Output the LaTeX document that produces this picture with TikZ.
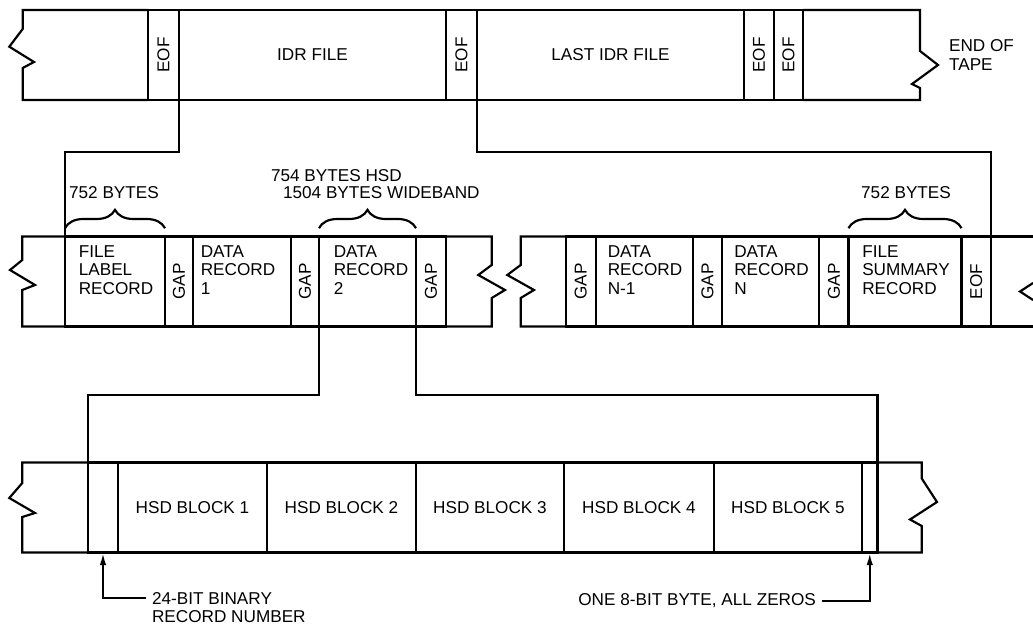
\documentclass[tikz,border=0pt]{standalone}
\usepackage{fontspec}
\setmainfont{Liberation Sans}
\usetikzlibrary{arrows.meta,decorations.pathreplacing}

\begin{document}
\begin{tikzpicture}[x=0.6pt, y=-0.6pt, line width=1.3pt, >={Latex[length=7.5pt,width=3.8pt]},
    font=\fontsize{10.3}{11}\selectfont,
    cell/.style={draw, inner sep=0pt, outer sep=0pt, minimum height=54pt, minimum width=#1*0.6pt},
    word/.style={align=left, inner sep=2pt},
    note/.style={align=left, inner sep=3pt},
    sizebrace/.style={decorate, decoration={brace, amplitude=11pt}}]
    \useasboundingbox (0,0) rectangle (1033,629);

    % tape with the IDR files
    \draw (148,10) -- (22.7,10) -- (22.7,29) -- (9.3,46.7) -- (34,62) -- (22.7,68) -- (22.7,100) -- (148,100);
    \node[cell=31] (eofa) at (163.5,55) {\rotatebox{90}{EOF}};
    \node[cell=267] (idr) at (312.5,55) {IDR FILE};
    \node[cell=31] (eofb) at (461.5,55) {\rotatebox{90}{EOF}};
    \node[cell=267] (lastidr) at (610.5,55) {LAST IDR FILE};
    \node[cell=30] (eofc) at (759,55) {\rotatebox{90}{EOF}};
    \node[cell=29] (eofd) at (788.5,55) {\rotatebox{90}{EOF}};
    \draw (803,10) -- (920,10) -- (920,51) -- (938,65) -- (912,84) -- (920,88) -- (920,100) -- (803,100);
    \node[note, anchor=west] (eot) at (943,55) {END OF\\TAPE};

    % records of one file, first part
    \draw (65,236.5) -- (22.3,236.5) -- (22.3,260) -- (10,270) -- (35,285) -- (22.3,290) -- (22.3,326.5) -- (65,326.5);
    \node[cell=100] (flr) at (115,281.5) {};
    \node[cell=28] (gapa) at (179,281.5) {\rotatebox{90}{GAP}};
    \node[cell=98] (dr1) at (242,281.5) {};
    \node[cell=28] (gapb) at (305,281.5) {\rotatebox{90}{GAP}};
    \node[cell=97] (dr2) at (367.5,281.5) {};
    \node[cell=30] (gapc) at (431,281.5) {\rotatebox{90}{GAP}};
    \draw (446,236.5) -- (491.7,236.5) -- (491.7,265) -- (478.3,275) -- (505,290) -- (491.7,298) -- (491.7,326.5) -- (446,326.5);
    \node[word] (flrt) at (116,270) {FILE\\LABEL\\RECORD};
    \node[word] (dr1t) at (238,270) {DATA\\RECORD\\1};
    \node[word] (dr2t) at (371,270) {DATA\\RECORD\\2};

    % records of one file, last part
    \draw (565.7,236.5) -- (520.7,236.5) -- (520.7,265) -- (507.3,275) -- (534,290) -- (520.7,298) -- (520.7,326.5) -- (565.7,326.5);
    \node[cell=30] (gapd) at (580.7,281.5) {\rotatebox{90}{GAP}};
    \node[cell=97] (drn1) at (644.2,281.5) {};
    \node[cell=29.6] (gape) at (707.5,281.5) {\rotatebox{90}{GAP}};
    \node[cell=97] (drn) at (770.8,281.5) {};
    \node[cell=29.3] (gapf) at (834,281.5) {\rotatebox{90}{GAP}};
    \node[cell=113] (fsr) at (905,281.5) {};
    \node[cell=29.5] (eofe) at (976.25,281.5) {\rotatebox{90}{EOF}};
    \draw (991,236.5) -- (1033,236.5);
    \draw (991,326.5) -- (1033,326.5);
    \draw (1033,283) -- (1020,291.5) -- (1033,300);
    \node[word] (drn1t) at (645,270) {DATA\\RECORD\\N-1};
    \node[word] (drnt) at (771.5,270) {DATA\\RECORD\\N};
    \node[word] (fsrt) at (906,270) {FILE\\SUMMARY\\RECORD};

    % sizes
    \draw[sizebrace] ([yshift=5pt]flr.north west) -- ([yshift=5pt]flr.north east);
    \node (flrb) at (114,193) {752 BYTES};
    \draw[sizebrace] ([yshift=5pt]dr2.north west) -- ([yshift=5pt]dr2.north east);
    \node[note, anchor=west] (hsdb) at (265,176) {754 BYTES HSD};
    \node[note, anchor=west] (wideb) at (277,193) {1504 BYTES WIDEBAND};
    \draw[sizebrace] ([yshift=5pt]fsr.north west) -- ([yshift=5pt]fsr.north east);
    \node (fsrb) at (906,193) {752 BYTES};

    % one data record
    \draw (88,462.5) -- (22.3,462.5) -- (22.3,483) -- (9.3,498) -- (35,513) -- (22.3,517) -- (22.3,552.5) -- (88,552.5);
    \node[cell=30] (recno) at (103,507.5) {};
    \node[cell=149] (blka) at (192.5,507.5) {HSD BLOCK 1};
    \node[cell=149] (blkb) at (341.5,507.5) {HSD BLOCK 2};
    \node[cell=148] (blkc) at (490,507.5) {HSD BLOCK 3};
    \node[cell=150] (blkd) at (639,507.5) {HSD BLOCK 4};
    \node[cell=148] (blke) at (788,507.5) {HSD BLOCK 5};
    \node[cell=15.5] (zero) at (869.75,507.5) {};
    \draw (877.5,462.5) -- (921.8,462.5) -- (921.8,478.6) -- (937,502) -- (910,519.5) -- (921.8,526) -- (921.8,552.5) -- (877.5,552.5);

    % expansions
    \draw (idr.south west) -- ++(0,52) -| (flr.north west);
    \draw (eofb.south east) -- ++(0,52) -| (eofe.north east);
    \draw (dr2.south west) -- ++(0,68.5) -| (recno.north west);
    \draw (dr2.south east) -- ++(0,68.5) -| (zero.north east);

    % callouts
    \node[note, anchor=north west] (recnot) at (146,586) {24-BIT BINARY\\RECORD NUMBER};
    \draw[->] ([yshift=-7pt]recnot.north west) -| (recno.south);
    \node[note, anchor=east] (zerot) at (822,601) {ONE 8-BIT BYTE, ALL ZEROS};
    \draw[->] (zerot.east) -| (zero.south);
\end{tikzpicture}
\end{document}
